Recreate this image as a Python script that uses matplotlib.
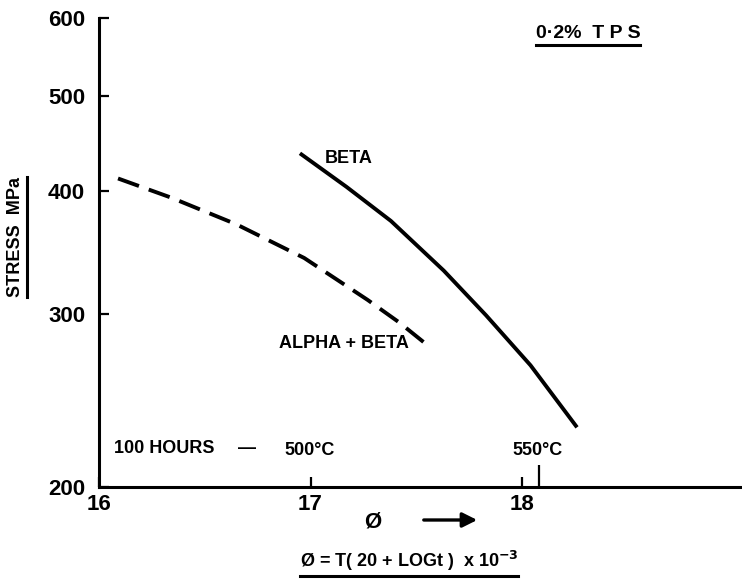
import matplotlib
matplotlib.use("Agg")
import matplotlib.pyplot as plt
from matplotlib.lines import Line2D
from matplotlib.ticker import NullLocator

# --- data ---
alpha_beta_phi = [16.09, 16.34, 16.65, 16.97, 17.27, 17.42, 17.56]
alpha_beta_stress = [412, 394, 370, 342, 310, 294, 278]
beta_phi = [16.95, 17.17, 17.38, 17.63, 17.83, 18.04, 18.26]
beta_stress = [437, 404, 373, 332, 299, 266, 230]

x_ticks = [16, 17, 18]
y_ticks = [200, 300, 400, 500, 600]
temp_phi = [17.0, 18.08]          # 100 h at 500 and 550 C
temp_labels = ["500°C", "550°C"]

plt.rcParams["font.family"] = ["Liberation Sans", "DejaVu Sans"]
plt.rcParams["font.weight"] = "bold"
plt.rcParams["lines.scale_dashes"] = False

W, H = 742, 581
fig = plt.figure(figsize=(W / 100, H / 100), dpi=100)
ax = fig.add_axes([99 / W, 1 - 487 / H, 1 - 99 / W, (487 - 18) / H])

ax.plot(alpha_beta_phi, alpha_beta_stress, color="k", lw=2.8, dashes=(16, 7.5),
        solid_capstyle="butt", dash_capstyle="butt", solid_joinstyle="round")
ax.plot(beta_phi, beta_stress, color="k", lw=2.8, solid_capstyle="butt",
        solid_joinstyle="round")

ax.set_yscale("log")
ax.set_xlim(16, 19.04)
ax.set_ylim(200, 600)
ax.set_yticks(y_ticks, [str(v) for v in y_ticks])
ax.yaxis.set_minor_locator(NullLocator())
ax.set_xticks(x_ticks, [str(v) for v in x_ticks])
ax.set_xticks(temp_phi, minor=True)

for s in ["top", "right"]:
    ax.spines[s].set_visible(False)
for s in ["left", "bottom"]:
    ax.spines[s].set_linewidth(2.2)

ax.tick_params(axis="y", which="major", direction="in", length=7, width=1.6,
               pad=10, labelsize=16)
ax.tick_params(axis="x", which="major", direction="in", length=7, width=1.6,
               pad=5, labelsize=16)
ax.tick_params(axis="x", which="minor", direction="in", length=16, width=1.6)

# curve labels
ax.text(17.18, 432, "BETA", fontsize=13, ha="center", va="center")
ax.text(17.16, 280, "ALPHA + BETA", fontsize=13, ha="center", va="center")

# temperature markers along the axis
tr = ax.get_xaxis_transform()
ax.text(16.07, 0.082, "100 HOURS", fontsize=13, ha="left", va="center", transform=tr)
ax.text(16.70, 0.082, "—", fontsize=13, ha="center", va="center", transform=tr)
for p, lab in zip(temp_phi, temp_labels):
    ax.text(p - 0.005, 0.077, lab, fontsize=13, ha="center", va="center", transform=tr)

# figure texts
ylab = fig.text(16 / W, 1 - 237 / H, "STRESS  MPa", fontsize=13, rotation=90,
                ha="center", va="center")
tps = fig.text(588 / W, 1 - 33 / H, "0·2%  T P S", fontsize=14, ha="center", va="center")
fig.text(373 / W, 1 - 522 / H, "Ø", fontsize=16, ha="center", va="center")
ax.annotate("", xy=(480 / W, 1 - 520 / H), xytext=(421 / W, 1 - 520 / H),
            xycoords="figure fraction", textcoords="figure fraction",
            arrowprops=dict(arrowstyle="-|>", color="k", lw=2.4, mutation_scale=22))
form = fig.text(409 / W, 1 - 561 / H, "Ø = T( 20 + LOGt )  x 10$^{-3}$", fontsize=13,
                ha="center", va="center")


def underline(t, side="bottom", gap=2.0, lw=2.2):
    fig.canvas.draw()
    bb = t.get_window_extent()
    if side == "bottom":
        xs = [bb.x0 / W, bb.x1 / W]
        ys = [(bb.y0 - gap) / H] * 2
    else:
        xs = [(bb.x1 + gap) / W] * 2
        ys = [bb.y0 / H, bb.y1 / H]
    fig.add_artist(Line2D(xs, ys, color="k", lw=lw, transform=fig.transFigure))


underline(ylab, side="right", gap=2)
underline(tps, gap=3)
underline(form, gap=3)

fig.savefig("out.png", dpi=100)
